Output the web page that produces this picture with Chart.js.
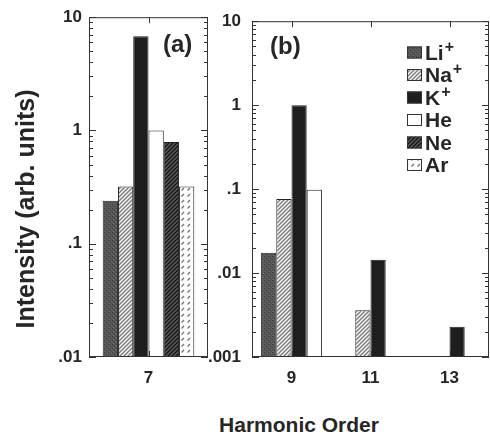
<!DOCTYPE html>
<html>
<head>
<meta charset="utf-8">
<script src="https://cdn.jsdelivr.net/npm/chart.js@4.4.1/dist/chart.umd.min.js"></script>
<style>
  html, body { margin: 0; padding: 0; background: #fff; }
  #wrap {
    position: relative;
    width: 490px;
    height: 442px;
    overflow: hidden;
    font-family: "Liberation Sans", Arial, Helvetica, sans-serif;
    font-weight: bold;
    color: #262626;
  }
  canvas { position: absolute; top: 0; }
  #chartA { left: 0; }
  #chartB { left: 200px; }
  .label { position: absolute; white-space: nowrap; }
  .panel { font-size: 24px; line-height: 24px; }
  #ytitle {
    left: -125px; top: 194px; width: 300px; height: 30px;
    font-size: 25px; line-height: 30px; text-align: center;
    transform: rotate(-90deg);
  }
  #xtitle {
    left: 149px; top: 413px; width: 300px;
    font-size: 21px; line-height: 24px; text-align: center;
  }
</style>
</head>
<body>
<div id="wrap">
  <canvas id="chartA" width="215" height="400"></canvas>
  <canvas id="chartB" width="290" height="400"></canvas>
  <div class="label panel" style="left:163px; top:32px;">(a)</div>
  <div class="label panel" style="left:270px; top:34px;">(b)</div>
  <div class="label" id="ytitle">Intensity (arb. units)</div>
  <div class="label" id="xtitle">Harmonic Order</div>
</div>
<script>
/**
 * Data
 */
const speciesNames = ['Li', 'Na', 'K', 'He', 'Ne', 'Ar'];
const speciesCharge = ['+', '+', '+', '', '', ''];

// panel (a): 7th harmonic, one value per species
const ordersA = ['7'];
const valuesA = [0.24, 0.32, 6.8, 1.0, 0.79, 0.32];

// panel (b): 9th, 11th, 13th harmonic
const ordersB = ['9', '11', '13'];
const liB = [0.0175, null, null];
const naB = [0.076, 0.0036, null];
const kB = [1.0, 0.0144, 0.0023];
const heB = [0.098, null, null];

const ticksA = [0.01, 0.1, 1, 10];
const tickLabelsA = ['.01', '.1', '1', '10'];
const ticksB = [0.001, 0.01, 0.1, 1, 10];
const tickLabelsB = ['.001', '.01', '.1', '1', '10'];

Chart.defaults.font.family = '"Liberation Sans", Arial, Helvetica, sans-serif';
Chart.defaults.font.weight = 'bold';
Chart.defaults.color = '#262626';

/**
 * Fill patterns
 */
function makePattern(size, draw) {
  const c = document.createElement('canvas');
  c.width = size;
  c.height = size;
  const g = c.getContext('2d');
  draw(g, size);
  return g.createPattern(c, 'repeat');
}

function hatch(bg, fg, width) {
  return makePattern(4, (g, s) => {
    g.fillStyle = bg;
    g.fillRect(0, 0, s, s);
    g.strokeStyle = fg;
    g.lineWidth = width;
    g.beginPath();
    g.moveTo(-1, s + 1); g.lineTo(s + 1, -1);
    g.moveTo(-1, 1); g.lineTo(1, -1);
    g.moveTo(s - 1, s + 1); g.lineTo(s + 1, s - 1);
    g.stroke();
  });
}

const fills = [
  // Li+: dark stipple
  makePattern(4, (g) => {
    g.fillStyle = '#565656';
    g.fillRect(0, 0, 4, 4);
    g.fillStyle = '#3c3c3c';
    g.fillRect(0, 0, 1, 1); g.fillRect(2, 2, 1, 1);
    g.fillStyle = '#6e6e6e';
    g.fillRect(1, 3, 1, 1); g.fillRect(3, 1, 1, 1);
  }),
  // Na+: light hatch
  hatch('#f4f4f4', '#7a7a7a', 1.3),
  // K+
  '#1e1e1e',
  // He
  '#ffffff',
  // Ne: dark hatch
  hatch('#5e5e5e', '#161616', 1.5),
  // Ar: small dashes
  makePattern(6, (g) => {
    g.fillStyle = '#ffffff';
    g.fillRect(0, 0, 6, 6);
    g.strokeStyle = '#6e6e6e';
    g.lineWidth = 1.3;
    g.beginPath();
    g.moveTo(1.5, 4.5); g.lineTo(4, 2);
    g.stroke();
  }),
];

/**
 * Plugins
 */
const framePlugin = {
  id: 'frame',
  afterDatasetsDraw(chart) {
    const { ctx, chartArea: a } = chart;
    const x = chart.scales.x;
    const y = chart.scales.y;
    ctx.save();
    ctx.strokeStyle = '#333';
    ctx.lineWidth = 1;
    ctx.strokeRect(a.left + 0.5, a.top + 0.5, a.width - 1, a.height - 1);
    ctx.beginPath();
    const lo = Math.round(Math.log10(y.min));
    const hi = Math.round(Math.log10(y.max));
    for (let e = lo; e <= hi; e++) {
      for (let m = 1; m <= 9; m++) {
        const v = m * Math.pow(10, e);
        if (v > y.max * 1.001) continue;
        const py = Math.round(y.getPixelForValue(v)) + 0.5;
        const len = m === 1 ? 7 : 4;
        ctx.moveTo(a.left, py); ctx.lineTo(a.left + len, py);
        ctx.moveTo(a.right, py); ctx.lineTo(a.right - len, py);
      }
    }
    x.ticks.forEach((t, i) => {
      const px = Math.round(x.getPixelForTick(i)) + 0.5;
      ctx.moveTo(px, a.top); ctx.lineTo(px, a.top + 6);
      ctx.moveTo(px, a.bottom); ctx.lineTo(px, a.bottom - 6);
    });
    ctx.stroke();
    ctx.restore();
  },
};

const legendPlugin = {
  id: 'speciesLegend',
  afterDraw(chart) {
    const ctx = chart.ctx;
    ctx.save();
    chart.data.datasets.forEach((ds, i) => {
      const cy = 52.5 + i * 22.5;
      ctx.fillStyle = ds.backgroundColor;
      ctx.fillRect(207, cy - 6, 15, 12);
      ctx.strokeStyle = '#333';
      ctx.lineWidth = 1;
      ctx.strokeRect(207.5, cy - 5.5, 14, 11);
      ctx.fillStyle = '#262626';
      ctx.textBaseline = 'middle';
      ctx.textAlign = 'left';
      ctx.font = 'bold 21px "Liberation Sans", Arial, sans-serif';
      ctx.fillText(speciesNames[i], 225, cy + 1.5);
      if (speciesCharge[i]) {
        const w = ctx.measureText(speciesNames[i]).width;
        ctx.font = 'bold 16px "Liberation Sans", Arial, sans-serif';
        ctx.fillText(speciesCharge[i], 225 + w + 1, cy - 5);
      }
    });
    ctx.restore();
  },
};

/**
 * Chart factory
 */
function createPanel({ selector, labels, datasets, ticks, tickLabels, axisWidth, labelPadding, top, right, plugins }) {
  const ctx = document.getElementById(selector).getContext('2d');
  return new Chart(ctx, {
    type: 'bar',
    data: { labels: labels, datasets: datasets },
    options: {
      responsive: false,
      animation: false,
      layout: { padding: { top: top, right: right, left: 0, bottom: 0 } },
      datasets: {
        bar: {
          categoryPercentage: 0.77,
          barPercentage: 1,
          borderWidth: 1,
          borderColor: '#222',
        },
      },
      plugins: { legend: { display: false }, tooltip: { enabled: false } },
      scales: {
        x: {
          grid: { display: false, drawTicks: false },
          border: { display: false },
          ticks: { font: { size: 17, weight: 'bold' }, padding: 11, color: '#262626' },
          afterFit: (scale) => { scale.height = 43; },
        },
        y: {
          type: 'logarithmic',
          min: ticks[0],
          max: ticks[ticks.length - 1],
          grid: { display: false, drawTicks: false },
          border: { display: false },
          afterBuildTicks: (scale) => { scale.ticks = ticks.map((v) => ({ value: v })); },
          afterFit: (scale) => { scale.width = axisWidth; },
          ticks: {
            font: { size: 17, weight: 'bold' },
            padding: labelPadding,
            color: '#262626',
            callback: (v) => tickLabels[ticks.indexOf(v)],
          },
        },
      },
    },
    plugins: plugins,
  });
}

createPanel({
  selector: 'chartA',
  labels: ordersA,
  datasets: speciesNames.map((name, i) => ({
    label: name + speciesCharge[i],
    data: [valuesA[i]],
    backgroundColor: fills[i],
  })),
  ticks: ticksA,
  tickLabels: tickLabelsA,
  axisWidth: 89,
  labelPadding: 7,
  top: 16,
  right: 7,
  plugins: [framePlugin],
});

const seriesB = [liB, naB, kB, heB, [null, null, null], [null, null, null]];
createPanel({
  selector: 'chartB',
  labels: ordersB,
  datasets: speciesNames.map((name, i) => ({
    label: name + speciesCharge[i],
    data: seriesB[i],
    backgroundColor: fills[i],
    // Ne and Ar were not measured here; keep them in the legend only
    hidden: i > 3,
  })),
  ticks: ticksB,
  tickLabels: tickLabelsB,
  axisWidth: 52,
  labelPadding: 11,
  top: 15,
  right: 1,
  plugins: [framePlugin, legendPlugin],
});
</script>
</body>
</html>
